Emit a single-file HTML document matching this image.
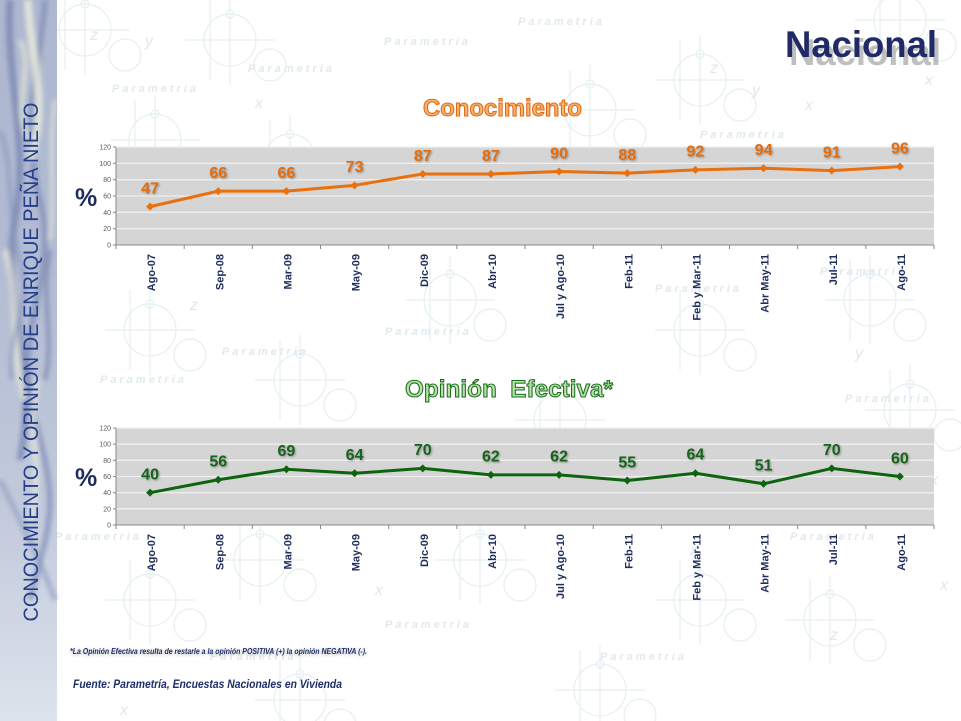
<!DOCTYPE html>
<html>
<head>
<meta charset="utf-8">
<style>
html,body{margin:0;padding:0;background:#fff;}
svg{display:block;}
text{font-family:"Liberation Sans",sans-serif;}
</style>
</head>
<body>
<svg width="961" height="721" viewBox="0 0 961 721" xmlns="http://www.w3.org/2000/svg">
<defs>
  <linearGradient id="sb" x1="0" y1="0" x2="0" y2="1">
    <stop offset="0" stop-color="#adb7d0"/>
    <stop offset="0.35" stop-color="#b2bbd3"/>
    <stop offset="0.7" stop-color="#c1c9db"/>
    <stop offset="1" stop-color="#dde3ec"/>
  </linearGradient>
  <filter id="bl" x="-50%" y="-50%" width="200%" height="200%"><feGaussianBlur stdDeviation="2.2"/></filter>
  <filter id="sh" x="-10%" y="-30%" width="120%" height="160%">
    <feGaussianBlur in="SourceAlpha" stdDeviation="1"/>
    <feOffset dx="1" dy="1" result="o"/>
    <feFlood flood-color="#000" flood-opacity="0.35"/>
    <feComposite in2="o" operator="in"/>
    <feMerge><feMergeNode/><feMergeNode in="SourceGraphic"/></feMerge>
  </filter>
  <filter id="glow" x="-10%" y="-30%" width="120%" height="160%">
    <feMorphology in="SourceAlpha" operator="dilate" radius="1.5" result="d"/>
    <feGaussianBlur in="d" stdDeviation="1.2" result="b"/>
    <feFlood flood-color="#ffffff"/>
    <feComposite in2="b" operator="in"/>
    <feMerge><feMergeNode/><feMergeNode in="SourceGraphic"/></feMerge>
  </filter>
  <filter id="fsh" x="-5%" y="-60%" width="110%" height="220%">
    <feGaussianBlur in="SourceAlpha" stdDeviation="1.5"/>
    <feOffset dx="0" dy="1" result="o"/>
    <feFlood flood-color="#808080" flood-opacity="0.6"/>
    <feComposite in2="o" operator="in"/>
    <feMerge><feMergeNode/><feMergeNode in="SourceGraphic"/></feMerge>
  </filter>
  <g id="wm" fill="none" stroke="#e6eff1" stroke-width="1.2">
    <circle cx="0" cy="0" r="26"/>
    <circle cx="0" cy="-26" r="4"/>
    <line x1="-45" y1="0" x2="45" y2="0"/>
    <line x1="0" y1="-45" x2="0" y2="45"/>
    <line x1="-20" y1="-40" x2="-20" y2="40"/>
    <circle cx="40" cy="25" r="16"/>
  </g>
</defs>

<!-- Background watermark -->
<g>
  <use href="#wm" x="85" y="30"/>
  <use href="#wm" x="230" y="40"/>
  <use href="#wm" x="590" y="110"/>
  <use href="#wm" x="700" y="80"/>
  <use href="#wm" x="900" y="20"/>
  <use href="#wm" x="155" y="140"/>
  <use href="#wm" x="290" y="160"/>
  <use href="#wm" x="450" y="300"/>
  <use href="#wm" x="700" y="330"/>
  <use href="#wm" x="870" y="300"/>
  <use href="#wm" x="150" y="330"/>
  <use href="#wm" x="300" y="380"/>
  <use href="#wm" x="560" y="420"/>
  <use href="#wm" x="910" y="410"/>
  <use href="#wm" x="150" y="600"/>
  <use href="#wm" x="260" y="560"/>
  <use href="#wm" x="480" y="560"/>
  <use href="#wm" x="700" y="600"/>
  <use href="#wm" x="830" y="620"/>
  <use href="#wm" x="600" y="690"/>
  <use href="#wm" x="300" y="700"/>
</g>
<g font-family="Liberation Serif, serif" font-style="italic" font-weight="bold" font-size="11" fill="#e0eaee" letter-spacing="3">
  <text x="248" y="72">Parametria</text>
  <text x="384" y="45">Parametria</text>
  <text x="518" y="25">Parametria</text>
  <text x="112" y="92">Parametria</text>
  <text x="700" y="138">Parametria</text>
  <text x="222" y="355">Parametria</text>
  <text x="385" y="335">Parametria</text>
  <text x="820" y="275">Parametria</text>
  <text x="655" y="292">Parametria</text>
  <text x="100" y="383">Parametria</text>
  <text x="845" y="402">Parametria</text>
  <text x="55" y="540">Parametria</text>
  <text x="790" y="540">Parametria</text>
  <text x="385" y="628">Parametria</text>
  <text x="210" y="660">Parametria</text>
  <text x="600" y="660">Parametria</text>
</g>
<g font-family="Liberation Serif, serif" font-style="italic" font-size="16" fill="#dfe9ec">
  <text x="90" y="40">z</text><text x="145" y="46">y</text>
  <text x="255" y="108">x</text><text x="710" y="73">z</text><text x="752" y="95">y</text>
  <text x="925" y="85">x</text><text x="805" y="110">x</text>
  <text x="190" y="310">z</text><text x="855" y="358">y</text><text x="930" y="485">x</text>
  <text x="375" y="595">x</text><text x="690" y="555">x</text><text x="830" y="640">z</text>
  <text x="120" y="715">x</text><text x="940" y="590">x</text>
</g>

<!-- Sidebar -->
<g>
  <rect x="0" y="0" width="57" height="721" fill="url(#sb)"/>
  <g filter="url(#bl)" fill="none">
    <path d="M10 0 C 5 80, 30 140, 15 220 S 40 360, 20 460" stroke="#6f7caa" stroke-width="7" opacity="0.65"/>
    <path d="M45 0 C 40 70, 20 120, 40 200 S 10 330, 35 420 S 50 520, 30 600" stroke="#7884b0" stroke-width="6" opacity="0.6"/>
    <path d="M28 0 C 30 60, 50 100, 30 160" stroke="#eef0dc" stroke-width="8" opacity="0.75"/>
    <path d="M5 250 C 20 300, 10 350, 25 400" stroke="#eceedb" stroke-width="7" opacity="0.6"/>
    <path d="M50 250 C 40 300, 55 340, 45 380" stroke="#6f7ca8" stroke-width="5" opacity="0.55"/>
    <path d="M0 480 C 20 520, 40 560, 55 600" stroke="#8d99bd" stroke-width="6" opacity="0.55"/>
    <path d="M20 40 C 35 70, 10 110, 30 140" stroke="#e6e9d4" stroke-width="6" opacity="0.6"/>
    <path d="M0 130 C 15 170, 5 210, 20 260 S 5 330, 12 380" stroke="#8793bb" stroke-width="5" opacity="0.55"/>
    <path d="M38 380 C 25 430, 45 470, 30 520" stroke="#e8ebd8" stroke-width="6" opacity="0.6"/>
    <path d="M55 100 C 48 150, 56 200, 50 240" stroke="#e3e6d6" stroke-width="5" opacity="0.6"/>
  </g>
  <text transform="translate(38,362) rotate(-90)" text-anchor="middle" font-size="21" fill="#24408a" textLength="519" lengthAdjust="spacingAndGlyphs">CONOCIMIENTO Y OPINIÓN DE ENRIQUE PEÑA NIETO</text>
</g>

<!-- Title Nacional -->
<text x="789" y="65" font-size="37" font-weight="bold" fill="#b0b0b0" opacity="0.8" textLength="152" lengthAdjust="spacingAndGlyphs">Nacional</text>
<text x="785" y="57" font-size="37" font-weight="bold" fill="#1f2a66" textLength="152" lengthAdjust="spacingAndGlyphs">Nacional</text>

<!-- Chart titles -->
<text x="423" y="116" font-size="24" font-weight="bold" fill="#f6b46e" stroke="#e2690a" stroke-width="1.1" filter="url(#glow)" textLength="159" lengthAdjust="spacingAndGlyphs">Conocimiento</text>
<text x="405" y="397" font-size="24" font-weight="bold" fill="#b9e0a6" stroke="#17701a" stroke-width="1.1" filter="url(#glow)" textLength="208" lengthAdjust="spacingAndGlyphs" xml:space="preserve">Opinión  Efectiva*</text>

<!-- % labels -->
<text x="75" y="206" font-size="25" font-weight="bold" fill="#1f2d5c">%</text>
<text x="75" y="486" font-size="25" font-weight="bold" fill="#1f2d5c">%</text>

<!-- CHART 1 -->
<g>
  <rect x="116" y="147" width="818" height="98" fill="#d5d5d5"/>
  <g stroke="#efefef" stroke-width="1.3">
    <line x1="116" y1="147" x2="934" y2="147"/>
    <line x1="116" y1="163.33" x2="934" y2="163.33"/>
    <line x1="116" y1="179.67" x2="934" y2="179.67"/>
    <line x1="116" y1="196" x2="934" y2="196"/>
    <line x1="116" y1="212.33" x2="934" y2="212.33"/>
    <line x1="116" y1="228.67" x2="934" y2="228.67"/>
  </g>
  <g stroke="#8a8a8a" stroke-width="1">
    <line x1="116" y1="147" x2="116" y2="249"/>
    <line x1="113" y1="245" x2="934" y2="245"/>
    <line x1="113" y1="147" x2="116" y2="147"/>
    <line x1="113" y1="163.33" x2="116" y2="163.33"/>
    <line x1="113" y1="179.67" x2="116" y2="179.67"/>
    <line x1="113" y1="196" x2="116" y2="196"/>
    <line x1="113" y1="212.33" x2="116" y2="212.33"/>
    <line x1="113" y1="228.67" x2="116" y2="228.67"/>
    <line x1="184.17" y1="245" x2="184.17" y2="249"/>
    <line x1="252.33" y1="245" x2="252.33" y2="249"/>
    <line x1="320.5" y1="245" x2="320.5" y2="249"/>
    <line x1="388.67" y1="245" x2="388.67" y2="249"/>
    <line x1="456.83" y1="245" x2="456.83" y2="249"/>
    <line x1="525" y1="245" x2="525" y2="249"/>
    <line x1="593.17" y1="245" x2="593.17" y2="249"/>
    <line x1="661.33" y1="245" x2="661.33" y2="249"/>
    <line x1="729.5" y1="245" x2="729.5" y2="249"/>
    <line x1="797.67" y1="245" x2="797.67" y2="249"/>
    <line x1="865.83" y1="245" x2="865.83" y2="249"/>
    <line x1="934" y1="245" x2="934" y2="249"/>
  </g>
  <g font-size="7" fill="#595959" text-anchor="end">
    <text x="111" y="149.5">120</text>
    <text x="111" y="165.8">100</text>
    <text x="111" y="182.2">80</text>
    <text x="111" y="198.5">60</text>
    <text x="111" y="214.8">40</text>
    <text x="111" y="231.2">20</text>
    <text x="111" y="247.5">0</text>
  </g>
  <polyline fill="none" stroke="#e8700e" stroke-width="3" stroke-linejoin="round"
    points="150.08,206.62 218.25,191.1 286.42,191.1 354.58,185.38 422.75,173.95 490.92,173.95 559.08,171.5 627.25,173.13 695.42,169.87 763.58,168.23 831.75,170.68 899.92,166.6"/>
  <g fill="#e8700e">
    <path d="M150.08 202.6 l4 4 l-4 4 l-4 -4z"/>
    <path d="M218.25 187.1 l4 4 l-4 4 l-4 -4z"/>
    <path d="M286.42 187.1 l4 4 l-4 4 l-4 -4z"/>
    <path d="M354.58 181.4 l4 4 l-4 4 l-4 -4z"/>
    <path d="M422.75 169.95 l4 4 l-4 4 l-4 -4z"/>
    <path d="M490.92 169.95 l4 4 l-4 4 l-4 -4z"/>
    <path d="M559.08 167.5 l4 4 l-4 4 l-4 -4z"/>
    <path d="M627.25 169.13 l4 4 l-4 4 l-4 -4z"/>
    <path d="M695.42 165.87 l4 4 l-4 4 l-4 -4z"/>
    <path d="M763.58 164.23 l4 4 l-4 4 l-4 -4z"/>
    <path d="M831.75 166.68 l4 4 l-4 4 l-4 -4z"/>
    <path d="M899.92 162.6 l4 4 l-4 4 l-4 -4z"/>
  </g>
  <g font-size="16" font-weight="bold" fill="#e36c0a" text-anchor="middle" filter="url(#sh)">
    <text x="150.08" y="193.4">47</text>
    <text x="218.25" y="177.9">66</text>
    <text x="286.42" y="177.9">66</text>
    <text x="354.58" y="172.2">73</text>
    <text x="422.75" y="160.8">87</text>
    <text x="490.92" y="160.8">87</text>
    <text x="559.08" y="158.3">90</text>
    <text x="627.25" y="159.9">88</text>
    <text x="695.42" y="156.7">92</text>
    <text x="763.58" y="155">94</text>
    <text x="831.75" y="157.5">91</text>
    <text x="899.92" y="153.4">96</text>
  </g>
  <g font-size="11" font-weight="bold" fill="#1f2d5c" text-anchor="end">
    <text transform="translate(155.1,254) rotate(-90)">Ago-07</text>
    <text transform="translate(223.3,254) rotate(-90)">Sep-08</text>
    <text transform="translate(291.4,254) rotate(-90)">Mar-09</text>
    <text transform="translate(359.6,254) rotate(-90)">May-09</text>
    <text transform="translate(427.8,254) rotate(-90)">Dic-09</text>
    <text transform="translate(495.9,254) rotate(-90)">Abr-10</text>
    <text transform="translate(564.1,254) rotate(-90)">Jul y Ago-10</text>
    <text transform="translate(632.3,254) rotate(-90)">Feb-11</text>
    <text transform="translate(700.4,254) rotate(-90)">Feb y Mar-11</text>
    <text transform="translate(768.6,254) rotate(-90)">Abr May-11</text>
    <text transform="translate(836.8,254) rotate(-90)">Jul-11</text>
    <text transform="translate(904.9,254) rotate(-90)">Ago-11</text>
  </g>
</g>

<!-- CHART 2 -->
<g>
  <rect x="116" y="428" width="818" height="97" fill="#d5d5d5"/>
  <g stroke="#efefef" stroke-width="1.3">
    <line x1="116" y1="428" x2="934" y2="428"/>
    <line x1="116" y1="444.17" x2="934" y2="444.17"/>
    <line x1="116" y1="460.33" x2="934" y2="460.33"/>
    <line x1="116" y1="476.5" x2="934" y2="476.5"/>
    <line x1="116" y1="492.67" x2="934" y2="492.67"/>
    <line x1="116" y1="508.83" x2="934" y2="508.83"/>
  </g>
  <g stroke="#8a8a8a" stroke-width="1">
    <line x1="116" y1="428" x2="116" y2="529"/>
    <line x1="113" y1="525" x2="934" y2="525"/>
    <line x1="113" y1="428" x2="116" y2="428"/>
    <line x1="113" y1="444.17" x2="116" y2="444.17"/>
    <line x1="113" y1="460.33" x2="116" y2="460.33"/>
    <line x1="113" y1="476.5" x2="116" y2="476.5"/>
    <line x1="113" y1="492.67" x2="116" y2="492.67"/>
    <line x1="113" y1="508.83" x2="116" y2="508.83"/>
    <line x1="184.17" y1="525" x2="184.17" y2="529"/>
    <line x1="252.33" y1="525" x2="252.33" y2="529"/>
    <line x1="320.5" y1="525" x2="320.5" y2="529"/>
    <line x1="388.67" y1="525" x2="388.67" y2="529"/>
    <line x1="456.83" y1="525" x2="456.83" y2="529"/>
    <line x1="525" y1="525" x2="525" y2="529"/>
    <line x1="593.17" y1="525" x2="593.17" y2="529"/>
    <line x1="661.33" y1="525" x2="661.33" y2="529"/>
    <line x1="729.5" y1="525" x2="729.5" y2="529"/>
    <line x1="797.67" y1="525" x2="797.67" y2="529"/>
    <line x1="865.83" y1="525" x2="865.83" y2="529"/>
    <line x1="934" y1="525" x2="934" y2="529"/>
  </g>
  <g font-size="7" fill="#595959" text-anchor="end">
    <text x="111" y="430.5">120</text>
    <text x="111" y="446.7">100</text>
    <text x="111" y="462.8">80</text>
    <text x="111" y="479">60</text>
    <text x="111" y="495.2">40</text>
    <text x="111" y="511.3">20</text>
    <text x="111" y="527.5">0</text>
  </g>
  <polyline fill="none" stroke="#0e640e" stroke-width="3" stroke-linejoin="round"
    points="150.08,492.67 218.25,479.73 286.42,469.23 354.58,473.27 422.75,468.42 490.92,474.88 559.08,474.88 627.25,480.54 695.42,473.27 763.58,483.78 831.75,468.42 899.92,476.5"/>
  <g fill="#0e640e">
    <path d="M150.08 488.67 l4 4 l-4 4 l-4 -4z"/>
    <path d="M218.25 475.73 l4 4 l-4 4 l-4 -4z"/>
    <path d="M286.42 465.23 l4 4 l-4 4 l-4 -4z"/>
    <path d="M354.58 469.27 l4 4 l-4 4 l-4 -4z"/>
    <path d="M422.75 464.42 l4 4 l-4 4 l-4 -4z"/>
    <path d="M490.92 470.88 l4 4 l-4 4 l-4 -4z"/>
    <path d="M559.08 470.88 l4 4 l-4 4 l-4 -4z"/>
    <path d="M627.25 476.54 l4 4 l-4 4 l-4 -4z"/>
    <path d="M695.42 469.27 l4 4 l-4 4 l-4 -4z"/>
    <path d="M763.58 479.78 l4 4 l-4 4 l-4 -4z"/>
    <path d="M831.75 464.42 l4 4 l-4 4 l-4 -4z"/>
    <path d="M899.92 472.5 l4 4 l-4 4 l-4 -4z"/>
  </g>
  <g font-size="16" font-weight="bold" fill="#17631a" text-anchor="middle" filter="url(#sh)">
    <text x="150.08" y="479.5">40</text>
    <text x="218.25" y="466.5">56</text>
    <text x="286.42" y="456">69</text>
    <text x="354.58" y="460">64</text>
    <text x="422.75" y="455.2">70</text>
    <text x="490.92" y="461.7">62</text>
    <text x="559.08" y="461.7">62</text>
    <text x="627.25" y="467.3">55</text>
    <text x="695.42" y="459.5">64</text>
    <text x="763.58" y="470.6">51</text>
    <text x="831.75" y="455.2">70</text>
    <text x="899.92" y="463.3">60</text>
  </g>
  <g font-size="11" font-weight="bold" fill="#1f2d5c" text-anchor="end">
    <text transform="translate(155.1,534) rotate(-90)">Ago-07</text>
    <text transform="translate(223.3,534) rotate(-90)">Sep-08</text>
    <text transform="translate(291.4,534) rotate(-90)">Mar-09</text>
    <text transform="translate(359.6,534) rotate(-90)">May-09</text>
    <text transform="translate(427.8,534) rotate(-90)">Dic-09</text>
    <text transform="translate(495.9,534) rotate(-90)">Abr-10</text>
    <text transform="translate(564.1,534) rotate(-90)">Jul y Ago-10</text>
    <text transform="translate(632.3,534) rotate(-90)">Feb-11</text>
    <text transform="translate(700.4,534) rotate(-90)">Feb y Mar-11</text>
    <text transform="translate(768.6,534) rotate(-90)">Abr May-11</text>
    <text transform="translate(836.8,534) rotate(-90)">Jul-11</text>
    <text transform="translate(904.9,534) rotate(-90)">Ago-11</text>
  </g>
</g>

<!-- Footnotes -->
<text x="70" y="654" font-size="8" font-weight="bold" font-style="italic" fill="#1f2d6b" filter="url(#fsh)" textLength="297" lengthAdjust="spacingAndGlyphs">*La Opinión Efectiva resulta de restarle a la opinión POSITIVA (+) la opinión NEGATIVA (-).</text>
<text x="73" y="688" font-size="12" font-weight="bold" font-style="italic" fill="#1f2d6b" textLength="269" lengthAdjust="spacingAndGlyphs">Fuente: Parametría, Encuestas Nacionales en Vivienda</text>
</svg>
</body>
</html>
